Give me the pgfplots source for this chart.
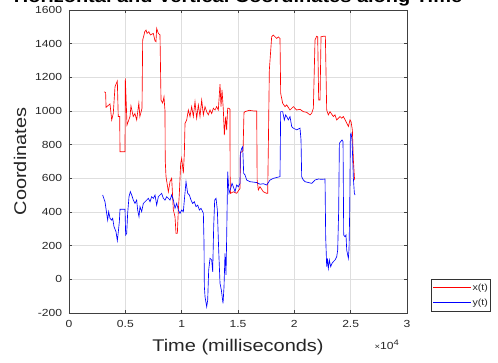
\documentclass[border=0pt]{standalone}
\usepackage{fontspec}
\setmainfont{Liberation Sans}[FakeStretch=1.18]
\usepackage{pgfplots}
\pgfplotsset{compat=1.18}
\usetikzlibrary{calc}
\definecolor{axgray}{gray}{0.25}
\definecolor{txtgray}{gray}{0.15}
\begin{document}
\begin{tikzpicture}
\begin{axis}[
  scale only axis, width=338bp, height=303bp,
  xmin=0, xmax=30000, ymin=-200, ymax=1600,
  xtick={0,5000,...,30000}, xticklabels={0,0.5,1,1.5,2,2.5,3},
  scaled x ticks=false,
  ytick={-200,0,...,1600},
  /pgf/number format/assume math mode=true,
  /pgf/number format/1000 sep={},
  grid=major, major grid style={black!13, line width=0.5bp},
  tick align=inside, major tick length=3.5bp,
  axis line style={axgray, line width=0.6bp},
  tick style={axgray, line width=0.5bp},
  ticklabel style={font=\fontsize{10.3}{12}\selectfont, text=txtgray},
  xticklabel style={yshift=-3.5bp},
  yticklabel style={xshift=-3.4bp},
  xlabel={Time (milliseconds)}, ylabel={Coordinates},
  label style={font=\fontsize{17}{20}\selectfont, text=txtgray},
  xlabel style={at={(axis description cs:0.5,-0.1287)}, anchor=base},
  ylabel style={at={(axis description cs:-0.127,0.5)}, anchor=base},
  no markers,
  legend cell align=left,
  legend style={at={(axis description cs:1.0712,0.004)}, anchor=south west,
    draw=black!80, line width=0.5bp, fill=white, font=\fontsize{9}{10}\selectfont,
    text=txtgray, inner xsep=1.5bp, inner ysep=3bp, row sep=3.5bp,
    nodes={inner sep=1bp, text height=7bp, text depth=2.5bp}},
  legend image code/.code={\draw[#1, line width=0.7bp] (0bp,0bp) -- (38bp,0bp);},
]
\addplot[red, line width=0.65bp] coordinates {
(3130,1114)(3250,1110)(3290,1022)(3640,1042)(3790,947)(3930,985)(4083,1144)(4290,1178)
(4370,967)(4500,967)(4527,758)(4970,758)(5000,1194)(5150,917)(5414,967)(5500,1030)
(5700,967)(5850,985)(6008,947)(6200,1047)(6290,967)(6480,1016)(6540,1422)(6660,1452)
(6720,1471)(6840,1481)(6930,1461)(7080,1471)(7230,1452)(7485,1461)(7630,1417)(7720,1412)
(7780,1491)(7930,1461)(8077,1452)(8166,1065)(8314,1047)(8432,1085)(8491,1026)(8521,1000)
(8540,709)(8610,610)(8728,560)(8817,520)(8965,580)(9113,600)(9261,412)(9409,372)
(9498,273)(9616,273)(9705,412)(9794,511)(9912,689)(10001,719)(10149,630)(10238,749)
(10297,927)(10445,947)(10593,1006)(10741,967)(10889,1026)(11036,967)(11184,1055)(11332,957)
(11480,1036)(11628,967)(11776,1065)(11924,977)(12072,1026)(12220,996)(12368,977)(12516,1006)
(12664,985)(12812,1016)(12960,1006)(13107,1026)(13255,1006)(13403,1159)(13492,1026)(13581,1125)
(13699,1006)(13788,857)(13906,967)(13994,887)(14083,1016)(14202,1016)(14290,1010)(14300,630)
(14330,511)(14590,520)(14880,511)(15180,540)(15210,750)(15450,765)(15530,990)(15620,996)
(16000,1004)(16400,1000)(16660,1000)(16700,590)(16805,531)(16950,550)(17250,520)(17540,511)
(17634,511)(17693,788)(17782,1244)(17989,1441)(18137,1451)(18433,1431)(18581,1440)(18728,1431)
(18788,1105)(18965,1046)(19172,1026)(19320,1036)(19616,1006)(19912,1026)(20208,1006)(20504,1010)
(20800,996)(21096,992)(21392,977)(21540,986)(21688,1016)(21836,1422)(21984,1444)(22073,1440)
(22162,1065)(22280,1065)(22369,1441)(22576,1444)(22754,1444)(22872,1006)(23020,977)(23168,996)
(23464,967)(23612,977)(23760,947)(24056,967)(24204,957)(24352,967)(24588,937)(24796,908)
(24944,947)(25032,937)(25151,887)(25240,709)(25330,610)(25360,590)
};
\addlegendentry{x(t)}
\addplot[blue, line width=0.65bp] coordinates {
(2988,501)(3195,461)(3343,392)(3432,352)(3521,402)(3640,362)(3787,352)(3876,362)
(3995,313)(4172,283)(4290,230)(4379,283)(4468,342)(4527,416)(4971,416)(5030,263)
(5119,273)(5207,392)(5326,491)(5444,521)(5562,501)(5710,471)(5858,451)(6006,471)
(6095,412)(6213,372)(6302,432)(6450,402)(6598,451)(6746,461)(6894,471)(7042,481)
(7190,461)(7338,491)(7486,481)(7634,501)(7782,441)(7930,491)(8077,501)(8225,511)
(8373,481)(8521,471)(8669,491)(8817,481)(8965,471)(9113,501)(9261,471)(9409,422)
(9557,451)(9705,412)(9853,392)(10001,412)(10149,402)(10238,471)(10386,580)(10534,511)
(10682,501)(10830,471)(10978,451)(11126,461)(11274,432)(11422,441)(11570,412)(11718,422)
(11866,402)(11925,392)(11984,214)(12014,-44)(12073,-103)(12221,-163)(12310,-123)(12398,55)
(12517,125)(12665,115)(12753,45)(12842,313)(12931,471)(13049,481)(13168,412)(13286,174)
(13404,-24)(13522,-64)(13670,-143)(13759,-44)(13847,154)(13936,26)(13995,253)(14084,640)
(14202,511)(14350,540)(14468,570)(14587,550)(14735,521)(14883,560)(15031,550)(15178,570)
(15208,749)(15327,778)(15416,788)(15504,630)(15623,620)(15771,590)(16066,580)(16658,575)
(16953,565)(17249,568)(17545,560)(17841,590)(18137,600)(18433,605)(18728,610)(18788,996)
(18965,996)(19113,947)(19232,977)(19320,967)(19468,947)(19616,967)(19764,908)(19912,898)
(20208,888)(20504,898)(20593,828)(20652,610)(20800,590)(20948,580)(21244,575)(21540,570)
(21836,590)(22132,596)(22428,594)(22724,596)(22783,253)(22872,75)(22931,125)(23020,65)
(23108,115)(23227,75)(23345,95)(23464,105)(23612,115)(23760,134)(23849,174)(23937,412)
(23997,808)(24115,818)(24233,828)(24322,818)(24381,263)(24500,253)(24588,263)(24648,174)
(24796,125)(24855,180)(24915,412)(24974,857)(25033,867)(25122,828)(25240,600)(25329,511)
(25388,501)
};
\addlegendentry{y(t)}
\coordinate (bl) at (rel axis cs:0,0);
\coordinate (tr) at (rel axis cs:1,1);
\coordinate (br) at (rel axis cs:1,0);
\coordinate (tc) at (rel axis cs:0.5,1);
\end{axis}
\node[anchor=base, yshift=7bp, font=\bfseries\fontsize{17}{20}\selectfont, text=black] at (tc) {Horizontal and Vertical Coordinates along Time};
\node[anchor=base east, xshift=-8bp, yshift=-36bp, inner sep=0pt, font=\fontsize{10.3}{12}\selectfont, text=txtgray] at (br) {{\fontsize{8}{10}\selectfont ×}10\raisebox{4bp}{\fontsize{8}{10}\selectfont 4}};
\pgfresetboundingbox
\path[use as bounding box] ($(bl)+(-69bp,-50bp)$) rectangle ($(tr)+(91bp,10bp)$);
\end{tikzpicture}
\end{document}
